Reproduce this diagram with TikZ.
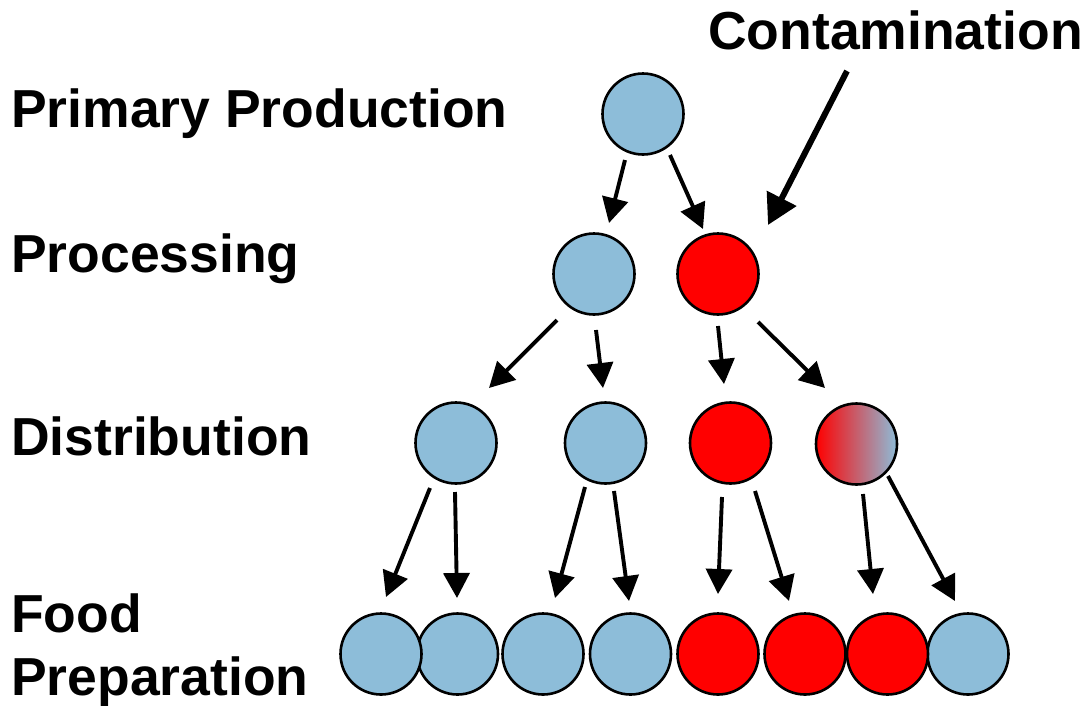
\documentclass[tikz,border=0pt]{standalone}
\usepackage{fontspec}
\setmainfont{Liberation Sans}
\usetikzlibrary{arrows.meta}
\definecolor{chainblue}{RGB}{141,189,217}
\definecolor{chainred}{RGB}{255,0,0}
\begin{document}
\begin{tikzpicture}[x=1pt,y=-1pt,
  stage/.style={circle, draw=black, line width=2.6pt, minimum size=81pt, inner sep=0pt},
  clean/.style={stage, fill=chainblue},
  tainted/.style={stage, fill=chainred},
  mixed/.style={stage, left color=chainred, right color=chainblue},
  flow/.style={line width=3.9pt, -{Triangle[length=25pt,width=26pt]}},
  bigflow/.style={line width=6pt, -{Triangle[length=30pt,width=32pt]}},
  stagelabel/.style={anchor=base west, inner sep=0pt, font=\fontsize{53.5}{60}\selectfont\bfseries}]
\useasboundingbox (0,0) rectangle (1084,705);

% stage labels
\node[stagelabel] (lprim) at (11,127) {Primary Production};
\node[stagelabel] (lproc) at (11,272) {Processing};
\node[stagelabel] (ldist) at (11,455) {Distribution};
\node[stagelabel] (lfood) at (11,632) {Food};
\node[stagelabel] (lprep) at (11,695) {Preparation};
\node[stagelabel] (lcont) at (708,49) {Contamination};

% primary production and processing
\node[clean]   (top) at (643,114) {};
\node[clean]   (pl)  at (594,274) {};
\node[tainted] (pr)  at (718,274) {};

% distribution
\node[clean]   (d1) at (456,443) {};
\node[clean]   (d2) at (605.5,443) {};
\node[tainted] (d3) at (730.5,443) {};
\node[mixed]   (d4) at (856.5,444) {};

% food preparation (left circles overlap their right neighbours)
\node[clean]   (f8) at (968,654) {};
\node[tainted] (f7) at (887.5,654) {};
\node[tainted] (f6) at (805,654) {};
\node[tainted] (f5) at (718,654) {};
\node[clean]   (f4) at (630.5,654) {};
\node[clean]   (f3) at (543,654) {};
\node[clean]   (f2) at (457.5,654) {};
\node[clean]   (f1) at (381,654) {};

% arrow end points
\coordinate (c0s) at (847,71);   \coordinate (c0e) at (768,225);
\coordinate (t1s) at (625,160);  \coordinate (t1e) at (609,223);
\coordinate (t2s) at (670,155);  \coordinate (t2e) at (703,229);
\coordinate (p1s) at (557,320);  \coordinate (p1e) at (489,388);
\coordinate (p2s) at (596,330);  \coordinate (p2e) at (603,388);
\coordinate (p3s) at (718,326);  \coordinate (p3e) at (724,384);
\coordinate (p4s) at (758,322);  \coordinate (p4e) at (825,388);
\coordinate (a1s) at (430,488);  \coordinate (a1e) at (386,597);
\coordinate (a2s) at (455,492);  \coordinate (a2e) at (457,598);
\coordinate (a3s) at (585,487);  \coordinate (a3e) at (555,598);
\coordinate (a4s) at (614,491);  \coordinate (a4e) at (629,601);
\coordinate (a5s) at (722,497);  \coordinate (a5e) at (718,594);
\coordinate (a6s) at (755,491);  \coordinate (a6e) at (789,601);
\coordinate (a7s) at (863,494);  \coordinate (a7e) at (873,594);
\coordinate (a8s) at (888,476);  \coordinate (a8e) at (955,601);

% arrows
\draw[bigflow] (c0s) -- (c0e);
\draw[flow] (t1s) -- (t1e);
\draw[flow] (t2s) -- (t2e);
\draw[flow] (p1s) -- (p1e);
\draw[flow] (p2s) -- (p2e);
\draw[flow] (p3s) -- (p3e);
\draw[flow] (p4s) -- (p4e);
\draw[flow] (a1s) -- (a1e);
\draw[flow] (a2s) -- (a2e);
\draw[flow] (a3s) -- (a3e);
\draw[flow] (a4s) -- (a4e);
\draw[flow] (a5s) -- (a5e);
\draw[flow] (a6s) -- (a6e);
\draw[flow] (a7s) -- (a7e);
\draw[flow] (a8s) -- (a8e);
\end{tikzpicture}
\end{document}
